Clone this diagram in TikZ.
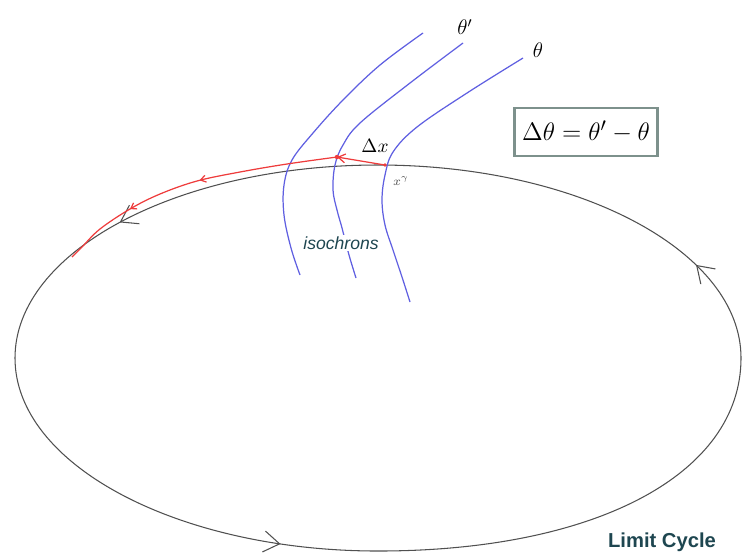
\documentclass[tikz,border=0pt]{standalone}
\usepackage{fontspec}
\setsansfont{Liberation Sans}
\usepackage{amsmath}
\usetikzlibrary{positioning}
\usetikzlibrary{arrows.meta}
\usetikzlibrary{decorations.markings}
\definecolor{isoblue}{RGB}{95,95,225}
\definecolor{trajred}{RGB}{238,60,60}
\definecolor{cyclegray}{RGB}{80,80,80}
\definecolor{labelteal}{RGB}{30,70,80}
\definecolor{boxgray}{RGB}{125,145,140}

\tikzset{
  cycleline/.style={cyclegray, line width=0.6pt, postaction={decorate},
    decoration={markings,
      mark=at position 0.149 with {\arrow{Straight Barb[length=9pt,width=12pt]}},
      mark=at position 0.444 with {\arrow{Straight Barb[length=9pt,width=12pt]}},
      mark=at position 0.810 with {\arrow{Straight Barb[length=9pt,width=12pt]}}}},
  isoline/.style={isoblue, line width=0.7pt},
  trajline/.style={trajred, line width=0.7pt},
  trajmarks/.style={postaction={decorate},
    decoration={markings,
      mark=at position 0.48 with {\arrow{Straight Barb[length=3pt,width=4pt]}},
      mark=at position 0.74 with {\arrow{Straight Barb[length=3pt,width=4pt]}}}},
}

\begin{document}
\begin{tikzpicture}[>=latex, x=0.02cm, y=-0.02cm]
    \useasboundingbox (0,0) rectangle (742,556);

    % Limit cycle
    \coordinate (top) at (378,165);
    \coordinate (left) at (15,358);
    \coordinate (bottom) at (378,551);
    \coordinate (right) at (741,358);
    \draw[cycleline] (top) .. controls (177.5,165) and (15,251.4) .. (left)
        .. controls (15,464.6) and (177.5,551) .. (bottom)
        .. controls (596,551) and (741,474) .. (right)
        .. controls (741,251.4) and (578.5,165) .. (top) -- cycle;

    % Isochrons
    \draw[isoline] plot[smooth, tension=0.6] coordinates {
        (423,33) (380,65) (343,100) (313,133) (292,160) (284,185) (284,215)
        (291,248) (300,275)};
    \draw[isoline] plot[smooth, tension=0.6] coordinates {
        (463,43) (410,83) (360,123) (343,145) (335,165) (333,190) (337,210)
        (342,228) (349,255) (356,278)};
    \draw[isoline] plot[smooth, tension=0.6] coordinates {
        (523,58) (467,93) (417,127) (393,152) (385,175) (382,200) (385,225)
        (393,250) (402,277) (410,302)};

    % Perturbed trajectory
    \coordinate (xg) at (385,165);
    \coordinate (xp) at (337,157);
    \draw[trajline, -{Straight Barb[length=4pt,width=5pt]}] (xg) -- (xp);
    \draw[trajline, trajmarks] plot[smooth, tension=0.6] coordinates {
        (xp) (287,164) (240,172) (197,181) (160,194) (130,209) (100,229)
        (82,247) (72,257)};
    \fill[trajred] (xp) circle (2.2);
    \fill[trajred] (xg) circle (1.8);

    % Labels
    \node (thp) at (465,27) {\fontsize{12}{14}\selectfont $\theta'$};
    \node (th) at (538,50) {\fontsize{12}{14}\selectfont $\theta$};
    \node (dx) at (375,146) {\fontsize{11}{13}\selectfont $\Delta x$};
    \node[text=cyclegray] (xgl) at (401,181) {\fontsize{7.5}{9}\selectfont $x^{\gamma}$};
    \node[draw=boxgray, line width=1.2pt, fill=white, minimum width=2.86cm,
          minimum height=0.96cm] (dth) at (586,132)
          {\fontsize{15}{18}\selectfont $\Delta\theta = \theta' - \theta$};
    \node[fill=white, inner sep=1pt, text=labelteal,
          font=\sffamily\itshape\fontsize{10}{12}\selectfont] (iso) at (341,243) {isochrons};
    \node[text=labelteal, font=\sffamily\bfseries\fontsize{11.5}{14}\selectfont]
          (lc) at (662,542) {Limit Cycle};
\end{tikzpicture}
\end{document}
